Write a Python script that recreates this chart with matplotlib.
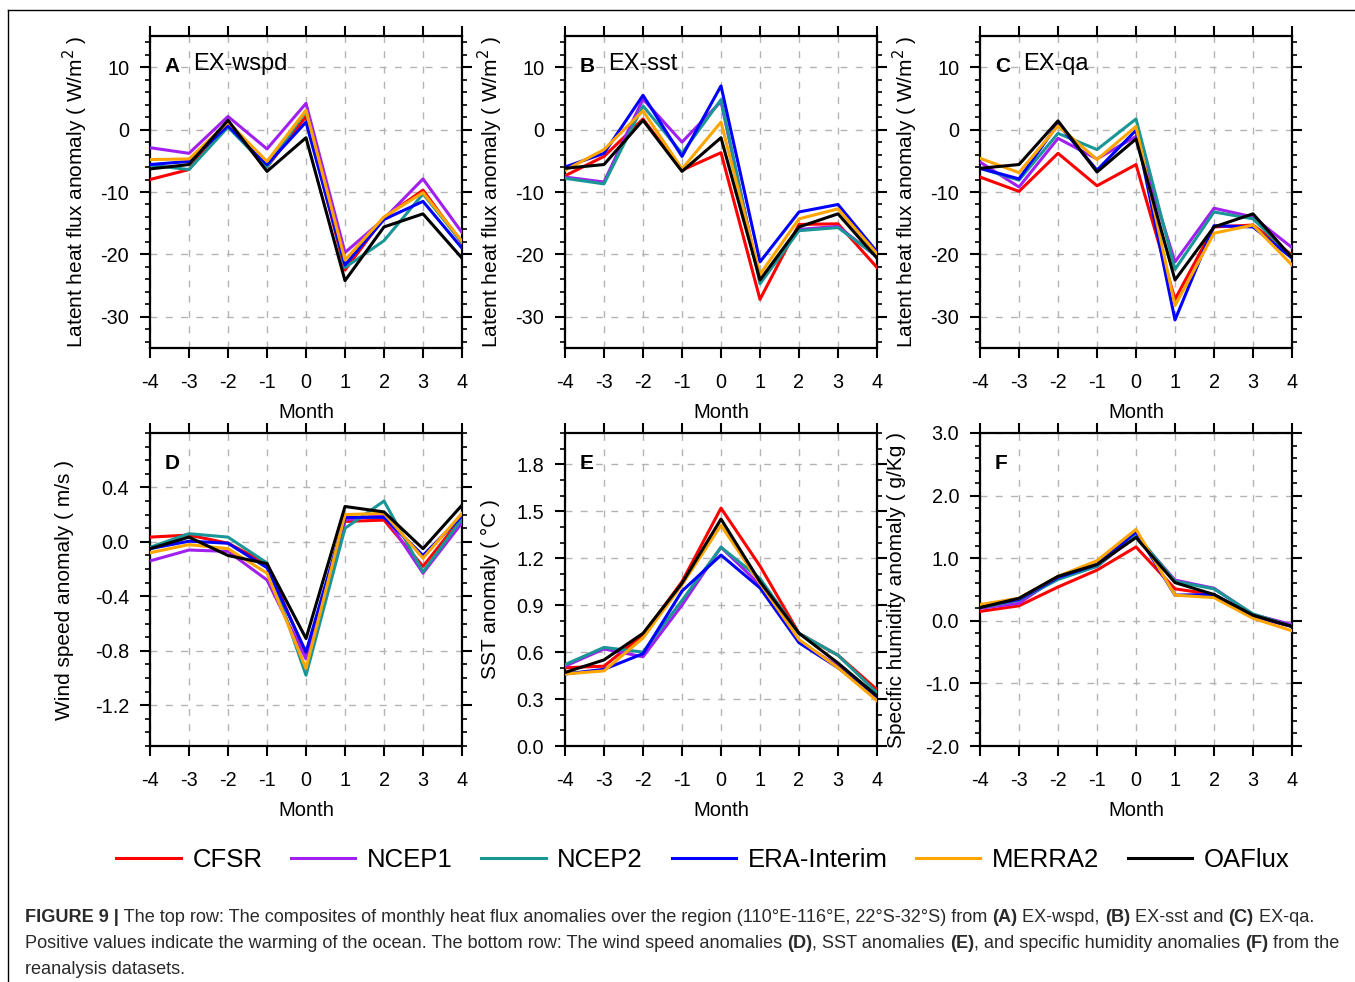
import matplotlib
matplotlib.use("Agg")
import matplotlib.pyplot as plt
from matplotlib.ticker import MultipleLocator, FixedLocator, FormatStrFormatter
from matplotlib.lines import Line2D

plt.rcParams['font.family'] = ['Liberation Sans', 'DejaVu Sans']
plt.rcParams['axes.unicode_minus'] = False

months = [-4, -3, -2, -1, 0, 1, 2, 3, 4]
datasets = ["CFSR", "NCEP1", "NCEP2", "ERA-Interim", "MERRA2", "OAFlux"]
colors = ["#ff0000", "#a020f0", "#1a9696", "#0000ff", "#ffa500", "#000000"]

# Panel A: EX-wspd latent heat flux anomaly (W/m2)
A_CFSR   = [-8.0, -6.4, 1.3, -6.0, 2.1, -22.5, -14.1, -9.7, -18.2]
A_NCEP1  = [-2.9, -3.8, 2.1, -3.1, 4.2, -19.7, -14.3, -7.9, -16.5]
A_NCEP2  = [-5.7, -6.4, 0.4, -6.0, 3.0, -22.1, -17.8, -10.3, -18.1]
A_ERA    = [-5.6, -5.1, 0.6, -5.6, 1.2, -21.7, -14.4, -11.5, -19.0]
A_MERRA2 = [-4.8, -4.7, 1.2, -5.1, 3.1, -20.9, -14.0, -10.1, -17.9]
A_OAFLUX = [-6.3, -5.6, 1.5, -6.7, -1.3, -24.2, -15.6, -13.5, -20.6]

# Panel B: EX-sst
B_CFSR   = [-7.4, -4.3, 1.7, -6.5, -3.7, -27.2, -15.2, -15.1, -22.1]
B_NCEP1  = [-7.6, -8.4, 4.9, -2.0, 4.5, -24.4, -16.0, -15.5, -20.4]
B_NCEP2  = [-7.8, -8.7, 3.8, -3.8, 4.8, -24.7, -16.2, -15.7, -20.3]
B_ERA    = [-6.0, -3.8, 5.5, -4.3, 7.0, -21.2, -13.2, -12.0, -19.6]
B_MERRA2 = [-6.5, -3.2, 3.0, -6.3, 1.2, -23.2, -14.3, -12.7, -19.9]
B_OAFLUX = [-6.2, -5.6, 1.5, -6.7, -1.3, -24.1, -15.6, -13.5, -20.6]

# Panel C: EX-qa
C_CFSR   = [-7.6, -9.9, -3.8, -9.0, -5.6, -27.2, -15.6, -15.3, -20.1]
C_NCEP1  = [-5.2, -9.2, -1.4, -4.7, -1.1, -21.2, -12.6, -14.0, -18.9]
C_NCEP2  = [-6.2, -8.1, -0.6, -3.2, 1.7, -22.4, -13.2, -14.3, -20.4]
C_ERA    = [-6.2, -7.9, 0.9, -6.5, -0.1, -30.5, -15.4, -15.6, -20.6]
C_MERRA2 = [-4.6, -6.9, 0.6, -4.8, 0.5, -28.2, -16.6, -15.3, -21.7]
C_OAFLUX = [-6.2, -5.6, 1.4, -6.8, -1.5, -24.1, -15.6, -13.5, -20.5]

# Panel D: wind speed anomaly (m/s)
D_CFSR   = [0.035, 0.05, -0.01, -0.16, -0.83, 0.15, 0.16, -0.18, 0.18]
D_NCEP1  = [-0.14, -0.06, -0.07, -0.28, -0.86, 0.16, 0.20, -0.23, 0.14]
D_NCEP2  = [-0.04, 0.06, 0.035, -0.155, -0.98, 0.10, 0.30, -0.22, 0.17]
D_ERA    = [-0.05, 0.005, -0.01, -0.19, -0.81, 0.18, 0.18, -0.10, 0.19]
D_MERRA2 = [-0.08, -0.02, -0.05, -0.23, -0.93, 0.20, 0.21, -0.12, 0.21]
D_OAFLUX = [-0.05, 0.035, -0.10, -0.16, -0.71, 0.26, 0.22, -0.05, 0.27]

# Panel E: SST anomaly (degC)
E_CFSR   = [0.50, 0.51, 0.71, 1.05, 1.52, 1.15, 0.72, 0.58, 0.36]
E_NCEP1  = [0.51, 0.62, 0.57, 0.90, 1.27, 1.03, 0.67, 0.51, 0.31]
E_NCEP2  = [0.52, 0.63, 0.60, 0.93, 1.27, 1.07, 0.72, 0.58, 0.34]
E_ERA    = [0.46, 0.49, 0.59, 0.99, 1.22, 1.01, 0.66, 0.50, 0.31]
E_MERRA2 = [0.46, 0.48, 0.69, 1.03, 1.41, 1.04, 0.68, 0.50, 0.29]
E_OAFLUX = [0.47, 0.55, 0.72, 1.04, 1.45, 1.05, 0.72, 0.53, 0.32]

# Panel F: specific humidity anomaly (g/Kg)
F_CFSR   = [0.15, 0.24, 0.54, 0.81, 1.18, 0.51, 0.42, 0.07, -0.09]
F_NCEP1  = [0.20, 0.28, 0.70, 0.87, 1.36, 0.65, 0.52, 0.10, -0.06]
F_NCEP2  = [0.21, 0.33, 0.66, 0.87, 1.38, 0.63, 0.51, 0.11, -0.09]
F_ERA    = [0.23, 0.34, 0.69, 0.90, 1.42, 0.41, 0.42, 0.07, -0.09]
F_MERRA2 = [0.26, 0.36, 0.71, 0.96, 1.46, 0.41, 0.37, 0.04, -0.16]
F_OAFLUX = [0.21, 0.36, 0.71, 0.90, 1.33, 0.61, 0.42, 0.09, -0.09]

# y tick values per panel
A_YTICKS = [-30, -20, -10, 0, 10]
D_YTICKS = [-1.2, -0.8, -0.4, 0.0, 0.4]
E_YTICKS = [0.0, 0.3, 0.6, 0.9, 1.2, 1.5, 1.8]
F_YTICKS = [-2.0, -1.0, 0.0, 1.0, 2.0, 3.0]

panels = [
    dict(series=[A_CFSR, A_NCEP1, A_NCEP2, A_ERA, A_MERRA2, A_OAFLUX], letter="A", title="EX-wspd",
         ylim=(-35, 15), ticks=A_YTICKS, minor=2, fmt="%d", ylabel="Latent heat flux anomaly ( W/m$^2$ )"),
    dict(series=[B_CFSR, B_NCEP1, B_NCEP2, B_ERA, B_MERRA2, B_OAFLUX], letter="B", title="EX-sst",
         ylim=(-35, 15), ticks=A_YTICKS, minor=2, fmt="%d", ylabel="Latent heat flux anomaly ( W/m$^2$ )"),
    dict(series=[C_CFSR, C_NCEP1, C_NCEP2, C_ERA, C_MERRA2, C_OAFLUX], letter="C", title="EX-qa",
         ylim=(-35, 15), ticks=A_YTICKS, minor=2, fmt="%d", ylabel="Latent heat flux anomaly ( W/m$^2$ )"),
    dict(series=[D_CFSR, D_NCEP1, D_NCEP2, D_ERA, D_MERRA2, D_OAFLUX], letter="D", title="",
         ylim=(-1.5, 0.8), ticks=D_YTICKS, minor=0.1, fmt="%.1f", ylabel="Wind speed anomaly ( m/s )"),
    dict(series=[E_CFSR, E_NCEP1, E_NCEP2, E_ERA, E_MERRA2, E_OAFLUX], letter="E", title="",
         ylim=(0.0, 2.0), ticks=E_YTICKS, minor=0.1, fmt="%.1f", ylabel="SST anomaly ( \u00b0C )"),
    dict(series=[F_CFSR, F_NCEP1, F_NCEP2, F_ERA, F_MERRA2, F_OAFLUX], letter="F", title="",
         ylim=(-2.0, 3.0), ticks=F_YTICKS, minor=0.2, fmt="%.1f", ylabel="Specific humidity anomaly ( g/Kg )"),
]

W, H = 1355, 982
fig = plt.figure(figsize=(W / 100, H / 100), dpi=100)

lefts = [150, 565, 980]
tops = [36, 433]
bottoms = [348, 746]
axw = 312
ylabel_x = [[75, 490, 905], [65, 490, 897]]

for i, p in enumerate(panels):
    r, c = divmod(i, 3)
    l = lefts[c]
    t, b = tops[r], bottoms[r]
    ax = fig.add_axes([l / W, 1 - b / H, axw / W, (b - t) / H])
    for s, col, name in zip(p["series"], colors, datasets):
        ax.plot(months, s, color=col, lw=2.2, label=name, zorder=3)
    ax.set_xlim(-4, 4)
    ax.set_ylim(*p["ylim"])
    ax.xaxis.set_major_locator(MultipleLocator(1))
    ax.yaxis.set_major_locator(FixedLocator(p["ticks"]))
    ax.yaxis.set_minor_locator(MultipleLocator(p["minor"]))
    ax.yaxis.set_major_formatter(FormatStrFormatter(p["fmt"]))
    ax.tick_params(axis='both', which='major', direction='out', length=7, width=1.5,
                   labelsize=14.3, top=True, right=True, pad=8)
    ax.tick_params(axis='y', which='minor', direction='out', length=3.6, width=1.2,
                   left=True, right=True)
    ax.tick_params(axis='x', which='major', pad=11)
    for sp in ax.spines.values():
        sp.set_linewidth(1.6)
    ax.grid(True, which='major', color='#b4b4b4', lw=1.0, ls=(0, (5, 6)), zorder=0)
    ax.set_xlabel("Month", fontsize=14.5)
    ax.xaxis.set_label_coords(0.5, -(64 / (b - t)))
    ax.xaxis.label.set_va('center')
    ax.set_ylabel(p["ylabel"], fontsize=15, va='center')
    ax.yaxis.set_label_coords((ylabel_x[r][c] - l) / axw, 0.5)
    ax.text(0.048, 0.903, p["letter"], transform=ax.transAxes, fontsize=15,
            fontweight='bold', va='center', ha='left', zorder=5)
    if p["title"]:
        ax.text(0.138, 0.91, p["title"], transform=ax.transAxes, fontsize=17,
                va='center', ha='left', zorder=5)

handles = [Line2D([], [], color=c, lw=2.2) for c in colors]
fig.legend(handles, datasets, loc='center', bbox_to_anchor=(703 / W, 1 - 860 / H), ncol=6,
           frameon=False, fontsize=18.5, handlelength=2.5, handletextpad=0.45,
           columnspacing=1.12)

# figure frame
fig.add_artist(Line2D([8 / W, 8 / W], [0, 1 - 9.5 / H], color='black', lw=1.0,
                      transform=fig.transFigure))
fig.add_artist(Line2D([8 / W, 1], [1 - 9.5 / H, 1 - 9.5 / H], color='black', lw=1.0,
                      transform=fig.transFigure))

# caption with mixed bold text
caption_lines = [
    [("FIGURE 9 |", True), (" The top row: The composites of monthly heat flux anomalies over the region (110\u00b0E-116\u00b0E, 22\u00b0S-32\u00b0S) from ", False),
     ("(A)", True), (" EX-wspd, ", False), ("(B)", True), (" EX-sst and ", False), ("(C)", True), (" EX-qa.", False)],
    [("Positive values indicate the warming of the ocean. The bottom row: The wind speed anomalies ", False), ("(D)", True),
     (", SST anomalies ", False), ("(E)", True), (", and specific humidity anomalies ", False), ("(F)", True), (" from the", False)],
    [("reanalysis datasets.", False)],
]
caption_y = [917, 943, 969]
renderer = fig.canvas.get_renderer()
for pieces, yy in zip(caption_lines, caption_y):
    x = 25.0
    for txt, bold in pieces:
        t = fig.text(x / W, 1 - yy / H, txt, fontsize=13.1, fontweight='bold' if bold else 'normal',
                     va='center', ha='left', color='#2a2a2a')
        bb = t.get_window_extent(renderer=renderer)
        x += bb.width

fig.savefig("out.png", dpi=100)
